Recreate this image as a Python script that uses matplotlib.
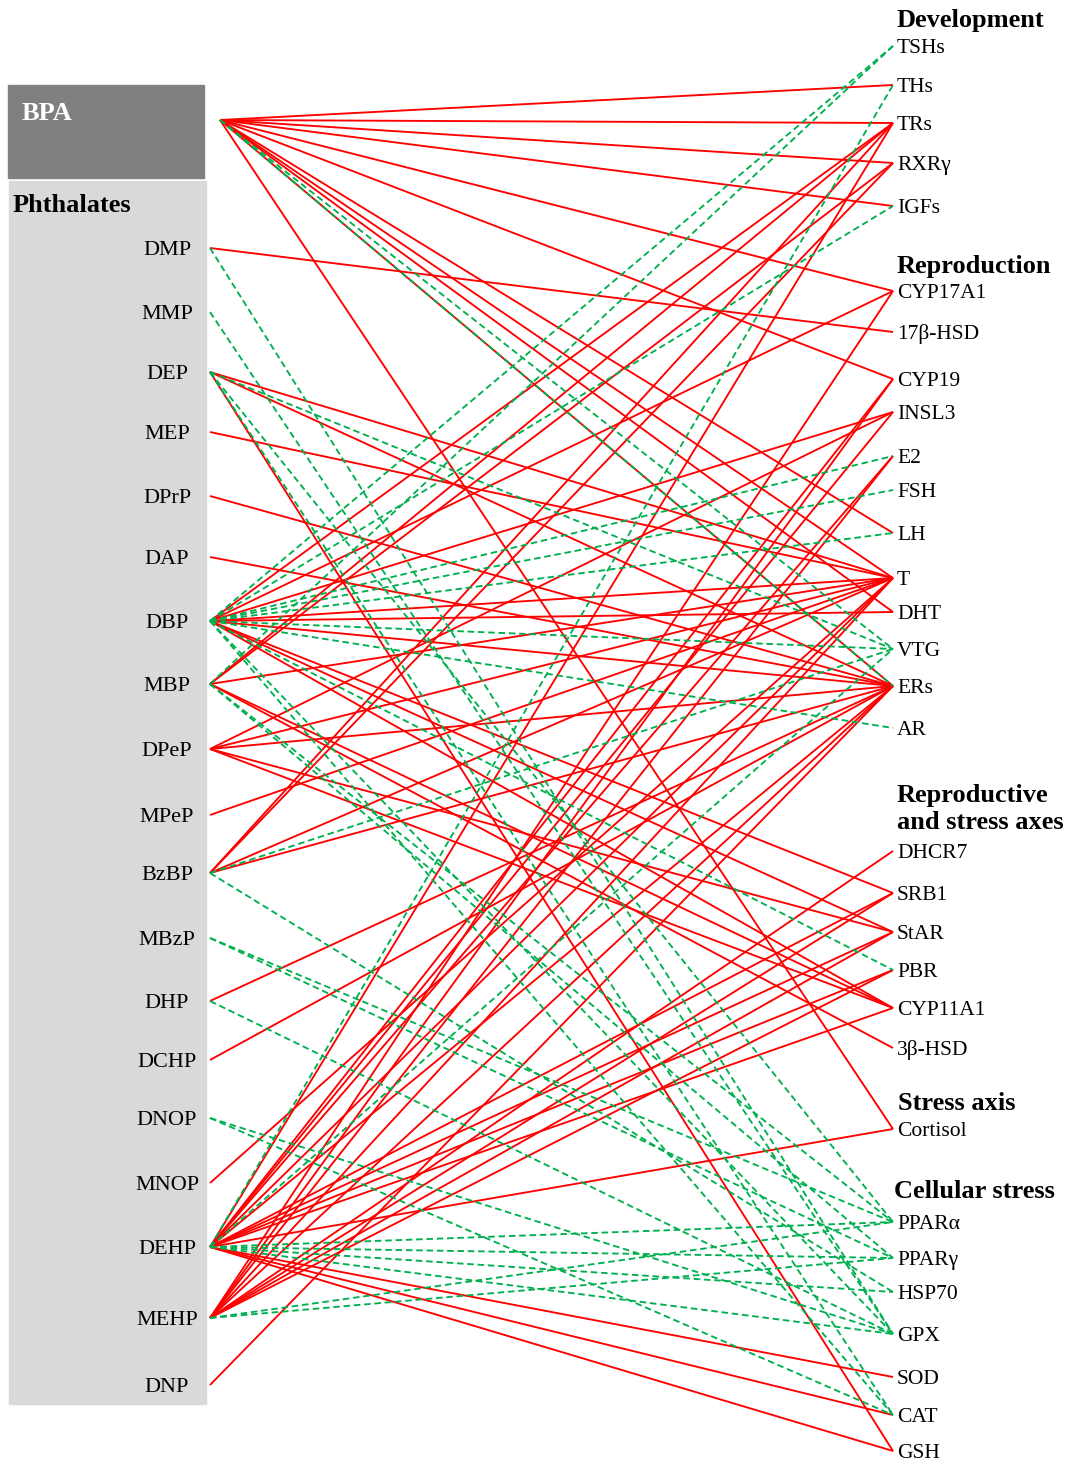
import matplotlib
matplotlib.use("Agg")
import matplotlib.pyplot as plt
from matplotlib.patches import Rectangle

plt.rcParams['font.family'] = ['Liberation Serif', 'DejaVu Serif']

# ---- data ----
left_nodes = ["BPA", "DMP", "MMP", "DEP", "MEP", "DPrP", "DAP", "DBP", "MBP", "DPeP", "MPeP",
              "BzBP", "MBzP", "DHP", "DCHP", "DNOP", "MNOP", "DEHP", "MEHP", "DNP"]
groups = ["Development", "Reproduction", "Reproductive\nand stress axes", "Stress axis", "Cellular stress"]
group_members = [
    ["TSHs", "THs", "TRs", "RXRγ", "IGFs"],
    ["CYP17A1", "17β-HSD", "CYP19", "INSL3", "E2", "FSH", "LH", "T", "DHT", "VTG", "ERs", "AR"],
    ["DHCR7", "SRB1", "StAR", "PBR", "CYP11A1", "3β-HSD"],
    ["Cortisol"],
    ["PPARα", "PPARγ", "HSP70", "GPX", "SOD", "CAT", "GSH"],
]

# red solid links (source -> targets)
red_links = {
    "BPA": ["THs", "TRs", "RXRγ", "IGFs", "CYP17A1", "CYP19", "LH", "T", "DHT", "ERs", "Cortisol"],
    "DMP": ["17β-HSD"],
    "DEP": ["T", "ERs", "GSH"],
    "MEP": ["T"],
    "DPrP": ["ERs"],
    "DAP": ["ERs"],
    "DBP": ["TRs", "CYP17A1", "INSL3", "T", "DHT", "ERs", "SRB1", "StAR", "CYP11A1"],
    "MBP": ["TRs", "RXRγ", "T", "CYP11A1", "3β-HSD"],
    "DPeP": ["INSL3", "T", "ERs", "StAR", "CYP11A1"],
    "MPeP": ["T"],
    "BzBP": ["TRs", "RXRγ", "T", "ERs"],
    "DHP": ["ERs"],
    "DCHP": ["ERs"],
    "MNOP": ["T"],
    "DEHP": ["TRs", "CYP19", "INSL3", "E2", "T", "ERs", "SRB1", "StAR", "PBR", "CYP11A1",
             "Cortisol", "SOD", "CAT", "GSH"],
    "MEHP": ["CYP17A1", "CYP19", "E2", "T", "ERs", "DHCR7", "SRB1", "StAR", "PBR"],
    "DNP": ["ERs"],
}
# green dashed links
green_links = {
    "BPA": ["VTG", "ERs"],
    "DMP": ["GPX"],
    "MMP": ["GPX"],
    "DEP": ["VTG", "PPARα", "CAT"],
    "DBP": ["TSHs", "IGFs", "E2", "FSH", "LH", "VTG", "AR", "PBR", "GPX", "CAT"],
    "MBP": ["TSHs", "PPARα", "PPARγ"],
    "BzBP": ["VTG", "HSP70"],
    "MBzP": ["PPARα", "PPARγ"],
    "DHP": ["GPX"],
    "DNOP": ["GPX", "CAT"],
    "DEHP": ["THs", "VTG", "PPARα", "PPARγ", "HSP70", "GPX"],
    "MEHP": ["PPARα", "PPARγ"],
}

# ---- layout (pixel space) ----
W, H = 1065, 1464
left_y = [120, 248, 312, 372, 432, 496, 557, 621, 684, 749, 815,
          873, 938, 1001, 1060, 1118, 1183, 1247, 1318, 1385]
left_x = dict(zip(left_nodes, [220] + [210] * 19))
right_y = [46, 85, 123, 163, 206,
           291, 332, 379, 412, 456, 490, 533, 578, 612, 649, 686, 728,
           851, 893, 932, 970, 1008, 1048,
           1129,
           1222, 1258, 1292, 1334, 1377, 1415, 1451]
group_y = [20, 266, 809, 1104, 1192]
group_x = [897, 897, 897, 898, 894]
RX = 893
DY = 2.5  # text sits slightly low relative to the link end

right_nodes = [n for g in group_members for n in g]
lpos = dict(zip(left_nodes, left_y))
rpos = dict(zip(right_nodes, right_y))

fig = plt.figure(figsize=(W / 100, H / 100), dpi=100)
ax = fig.add_axes([0, 0, 1, 1])
ax.set_xlim(0, W)
ax.set_ylim(H, 0)
ax.axis("off")

# boxes
ax.add_patch(Rectangle((8, 85), 196, 93, color="#808080", zorder=0))
ax.add_patch(Rectangle((9, 181), 197, 1223, color="#d9d9d9", zorder=0))
ax.text(22, 113, "BPA", color="white", fontsize=19, fontweight="bold", va="center", ha="left")
ax.text(13, 205, "Phthalates", color="black", fontsize=19, fontweight="bold", va="center", ha="left")

for name in left_nodes[1:]:
    ax.text(167, lpos[name] + DY, name, fontsize=16, va="center", ha="center")

for name in right_nodes:
    ax.text(897, rpos[name] + DY, name, fontsize=15.5, va="center", ha="left")

for g, gx, gy in zip(groups, group_x, group_y):
    ax.text(gx, gy, g, fontsize=19, fontweight="bold", va="center", ha="left", linespacing=1.2)

# links
for src, tgts in red_links.items():
    for t in tgts:
        ax.plot([left_x[src], RX], [lpos[src], rpos[t]], color="#ff0000", lw=1.35,
                solid_capstyle="butt", zorder=2)
for src, tgts in green_links.items():
    for t in tgts:
        ax.plot([left_x[src], RX], [lpos[src], rpos[t]], color="#00b050", lw=1.35,
                dashes=(3.5, 2), zorder=3)

fig.savefig("out.png", dpi=100, facecolor="white")
